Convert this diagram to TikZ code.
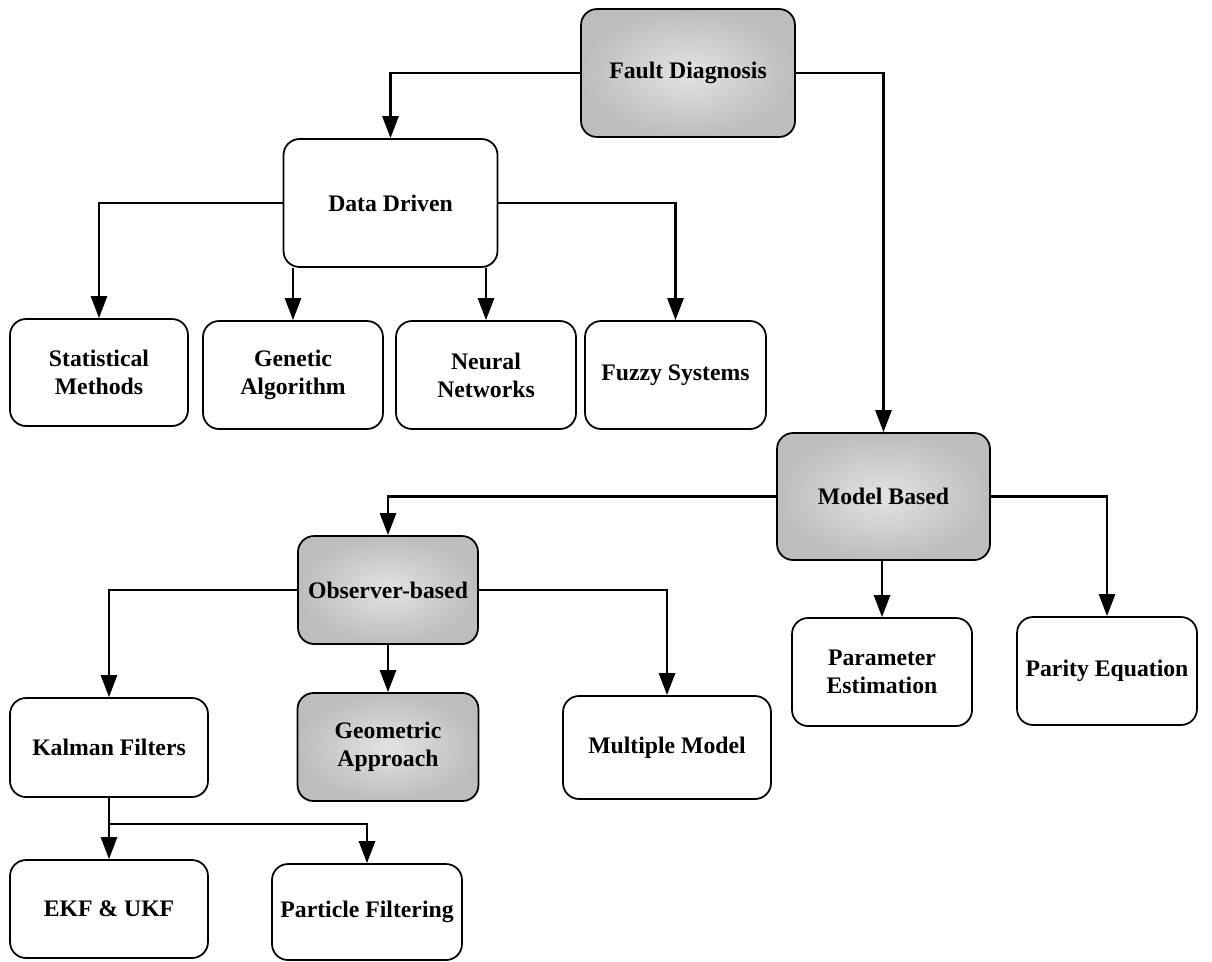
\documentclass[tikz,border=0pt]{standalone}
\usepackage{fontspec}
\setmainfont{Liberation Serif}
\usetikzlibrary{arrows.meta}
\tikzset{
  box/.style={draw=black, line width=1pt, rounded corners=0.32cm, fill=white,
    align=center, inner sep=2pt,
    font=\fontsize{13.5}{16}\selectfont\bfseries},
  shadedbox/.style={box, inner color=gray!22, outer color=gray!52},
  arr/.style={line width=1.5pt, -{Triangle[length=0.44cm,width=0.32cm]}},
  link/.style={line width=1.5pt}
}
\begin{document}
\begin{tikzpicture}[x=0.02cm, y=-0.02cm]
\useasboundingbox (0,0) rectangle (1212,961);

% top level
\node[shadedbox, minimum width=4.28cm, minimum height=2.56cm] (fault) at (688,73) {Fault Diagnosis};

% data driven branch
\node[box, minimum width=4.28cm, minimum height=2.56cm] (dd) at (390.5,203) {Data Driven};
\node[box, minimum width=3.56cm, minimum height=2.14cm] (stat) at (99,372.5) {Statistical\\Methods};
\node[box, minimum width=3.6cm, minimum height=2.16cm] (gen) at (293,375) {Genetic\\Algorithm};
\node[box, minimum width=3.6cm, minimum height=2.16cm] (neur) at (486,375) {Neural\\Networks};
\node[box, minimum width=3.62cm, minimum height=2.16cm] (fuzz) at (675.5,375) {Fuzzy Systems};

% model based branch
\node[shadedbox, minimum width=4.26cm, minimum height=2.54cm] (mb) at (883.5,496.5) {Model Based};
\node[box, minimum width=3.6cm, minimum height=2.16cm] (param) at (882,672) {Parameter\\Estimation};
\node[box, minimum width=3.6cm, minimum height=2.16cm] (parity) at (1107,671) {Parity Equation};

% observer-based branch
\node[shadedbox, minimum width=3.6cm, minimum height=2.16cm] (obs) at (388,590) {Observer-based};
\node[box, minimum width=3.96cm, minimum height=1.98cm] (kal) at (109,747.5) {Kalman Filters};
\node[shadedbox, minimum width=3.62cm, minimum height=2.16cm] (geo) at (388,747) {Geometric\\Approach};
\node[box, minimum width=4.16cm, minimum height=2.06cm] (mult) at (667,747.5) {Multiple Model};

% Kalman filter variants
\node[box, minimum width=3.96cm, minimum height=1.96cm] (ekf) at (109,909) {EKF \& UKF};
\node[box, minimum width=3.8cm, minimum height=1.92cm] (part) at (367,912) {Particle Filtering};

% connectors
\draw[arr] (fault.west) -| (dd.north);
\draw[arr] (fault.east) -| (mb.north);

\draw[arr] (dd.west) -| (stat.north);
\draw[arr] (gen.north |- dd.south) -- (gen.north);
\draw[arr] (neur.north |- dd.south) -- (neur.north);
\draw[arr] (dd.east) -| (fuzz.north);

\draw[arr] (mb.west) -| (obs.north);
\draw[arr] (param.north |- mb.south) -- (param.north);
\draw[arr] (mb.east) -| (parity.north);

\draw[arr] (obs.west) -| (kal.north);
\draw[arr] (geo.north |- obs.south) -- (geo.north);
\draw[arr] (obs.east) -| (mult.north);

\coordinate (kj) at (109,824);
\draw[link] (kal.south) -- (kj);
\draw[arr] (kj) -- (ekf.north);
\draw[arr] (kj) -| (part.north);
\end{tikzpicture}
\end{document}
